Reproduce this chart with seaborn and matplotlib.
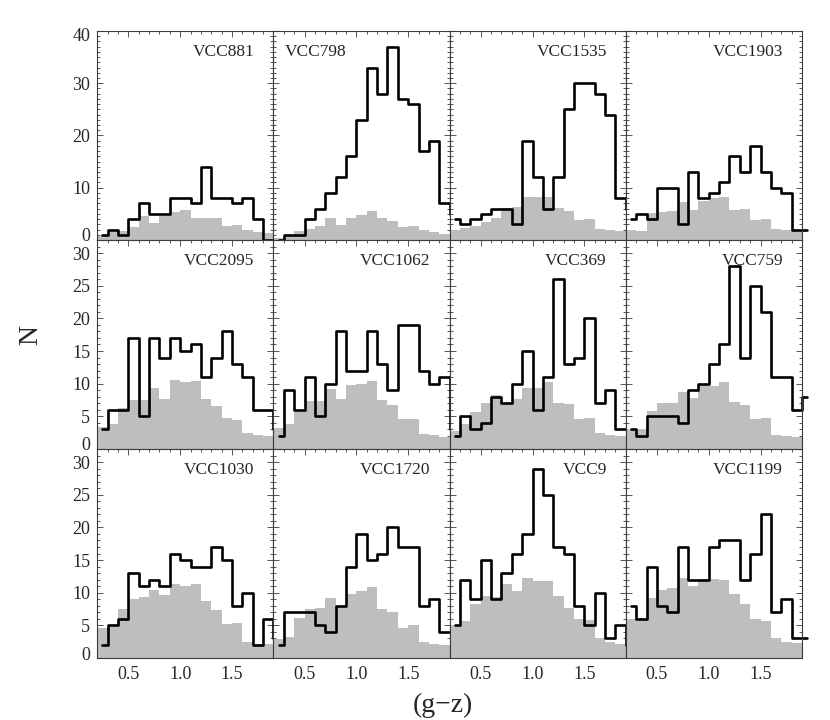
import numpy as np
import pandas as pd
import matplotlib
matplotlib.use("Agg")
import matplotlib.pyplot as plt
import matplotlib.transforms as mtransforms
from matplotlib.ticker import FixedLocator, MultipleLocator, FixedFormatter
import seaborn as sns

# ---------------- data ----------------
galaxies = ["VCC881", "VCC798", "VCC1535", "VCC1903",
            "VCC2095", "VCC1062", "VCC369", "VCC759",
            "VCC1030", "VCC1720", "VCC9", "VCC1199"]

# bin edges (g-z): GC histogram starts at the first bin centre and runs half a bin past the frame
gc_edges = [0.25, 0.3, 0.4, 0.5, 0.6, 0.7, 0.8, 0.9, 1.0, 1.1, 1.2, 1.3,
            1.4, 1.5, 1.6, 1.7, 1.8, 1.9, 1.95]
bg_edges = [0.2, 0.3, 0.4, 0.5, 0.6, 0.7, 0.8, 0.9, 1.0, 1.1, 1.2, 1.3,
            1.4, 1.5, 1.6, 1.7, 1.8, 1.9]

# globular-cluster counts (black step lines)
vcc881_gc = [1, 2, 1, 4, 7, 5, 5, 8, 8, 7, 14, 8, 8, 7, 8, 4, 0, 0]
vcc798_gc = [0, 1, 1, 4, 6, 9, 12, 16, 23, 33, 28, 37, 27, 26, 17, 19, 7, 5]
vcc1535_gc = [4, 3, 4, 5, 6, 6, 3, 19, 12, 6, 12, 25, 30, 30, 28, 24, 8, 6]
vcc1903_gc = [4, 5, 4, 10, 10, 3, 13, 8, 9, 11, 16, 13, 18, 13, 10, 9, 2, 2]
vcc2095_gc = [3, 6, 6, 17, 5, 17, 14, 17, 15, 16, 11, 14, 18, 13, 11, 6, 6, 3]
vcc1062_gc = [2, 9, 6, 11, 5, 10, 18, 12, 12, 18, 13, 9, 19, 19, 12, 10, 11, 3]
vcc369_gc = [2, 5, 3, 4, 8, 7, 10, 15, 6, 11, 26, 13, 14, 20, 7, 9, 3, 3]
vcc759_gc = [3, 2, 5, 5, 5, 4, 9, 10, 13, 16, 28, 14, 25, 21, 11, 11, 6, 8]
vcc1030_gc = [2, 5, 6, 13, 11, 12, 11, 16, 15, 14, 14, 17, 15, 8, 10, 2, 6, 3]
vcc1720_gc = [2, 7, 7, 7, 5, 4, 8, 14, 19, 15, 16, 20, 17, 17, 8, 9, 4, 4]
vcc9_gc = [5, 12, 9, 15, 9, 13, 16, 19, 29, 25, 17, 16, 8, 5, 10, 3, 5, 2]
vcc1199_gc = [8, 6, 14, 8, 7, 17, 12, 12, 17, 18, 18, 12, 16, 22, 7, 9, 3, 3]

# background / contamination histograms (grey fill)
vcc881_bg = [0.8, 1.5, 1.8, 2.4, 4.6, 3.2, 4.5, 5.3, 5.7, 4.3, 4.3, 4.2, 2.6, 2.9, 1.9, 1.6, 1.3]
vcc798_bg = [0.4, 0.8, 1.8, 2.1, 2.6, 4.2, 2.9, 4.3, 4.8, 5.6, 4.2, 3.7, 2.5, 2.7, 1.9, 1.5, 1.1]
vcc1535_bg = [1.9, 2.2, 2.7, 3.4, 4.3, 6.1, 6.4, 8.3, 8.2, 8.3, 6.2, 5.5, 3.8, 4.0, 2.1, 1.9, 1.7]
vcc1903_bg = [1.9, 1.8, 5.2, 5.3, 5.5, 7.2, 5.7, 7.5, 8.0, 8.2, 5.7, 6.0, 3.9, 4.0, 2.1, 1.9, 1.8]
vcc2095_bg = [3.4, 3.9, 6.2, 7.5, 7.5, 9.3, 7.7, 10.5, 10.3, 10.4, 7.6, 6.6, 4.8, 4.5, 2.4, 2.2, 2.0]
vcc1062_bg = [3.2, 3.8, 5.6, 7.3, 7.4, 9.2, 7.6, 9.8, 9.9, 10.4, 7.5, 6.8, 4.6, 4.6, 2.3, 2.2, 1.8]
vcc369_bg = [2.8, 3.8, 5.7, 7.0, 8.2, 6.9, 7.7, 9.3, 9.3, 10.2, 7.1, 6.9, 4.6, 4.8, 2.4, 2.2, 2.0]
vcc759_bg = [3.0, 3.0, 5.8, 7.1, 7.0, 8.8, 7.8, 9.6, 9.7, 10.2, 7.2, 6.8, 4.6, 4.8, 2.2, 2.0, 1.8]
vcc1030_bg = [4.6, 4.8, 7.5, 9.1, 9.3, 10.4, 9.7, 11.3, 11.1, 11.4, 8.8, 7.3, 5.2, 5.4, 2.5, 2.2, 2.1]
vcc1720_bg = [2.9, 3.2, 6.1, 7.5, 7.6, 9.2, 8.0, 9.8, 10.3, 10.8, 7.5, 7.0, 4.6, 5.1, 2.4, 2.2, 2.0]
vcc9_bg = [5.1, 5.6, 8.3, 9.5, 9.4, 11.3, 10.3, 12.2, 11.8, 11.8, 9.5, 7.7, 5.9, 5.8, 3.0, 2.5, 2.1]
vcc1199_bg = [6.0, 6.1, 9.2, 10.4, 10.7, 12.2, 11.0, 12.1, 12.1, 12.0, 9.8, 8.3, 5.9, 5.7, 3.0, 2.5, 2.3]

gc_counts = [vcc881_gc, vcc798_gc, vcc1535_gc, vcc1903_gc,
             vcc2095_gc, vcc1062_gc, vcc369_gc, vcc759_gc,
             vcc1030_gc, vcc1720_gc, vcc9_gc, vcc1199_gc]
bg_counts = [vcc881_bg, vcc798_bg, vcc1535_bg, vcc1903_bg,
             vcc2095_bg, vcc1062_bg, vcc369_bg, vcc759_bg,
             vcc1030_bg, vcc1720_bg, vcc9_bg, vcc1199_bg]

x_tick_values = [0.5, 1.0, 1.5]
x_tick_labels = ["0.5", "1.0", "1.5"]
top_y_ticks = [0, 10, 20, 30, 40]
low_y_ticks = [0, 5, 10, 15, 20, 25, 30]

# ---------------- style ----------------
sns.set_style("ticks")
plt.rcParams["font.family"] = ["Liberation Serif", "DejaVu Serif"]
plt.rcParams["axes.linewidth"] = 0.8
plt.rcParams["axes.edgecolor"] = "#3a3a3a"

fig = plt.figure(figsize=(8.3, 7.2), dpi=100)
gs = fig.add_gridspec(3, 4, left=0.1172, right=0.9663, top=0.957,
                      bottom=0.0861, wspace=0, hspace=0)

grey = "#bebebe"

for i, name in enumerate(galaxies):
    r, c = divmod(i, 4)
    ax = fig.add_subplot(gs[r, c])

    gc_centres = [(a + b) / 2 for a, b in zip(gc_edges[:-1], gc_edges[1:])]
    bg_centres = [(a + b) / 2 for a, b in zip(bg_edges[:-1], bg_edges[1:])]
    df_bg = pd.DataFrame({"gz": bg_centres, "N": bg_counts[i]})
    df_gc = pd.DataFrame({"gz": gc_centres, "N": gc_counts[i]})

    sns.histplot(data=df_bg, x="gz", weights="N", bins=bg_edges,
                 element="step", fill=True, color=grey, alpha=1,
                 linewidth=0, ax=ax, zorder=1)
    sns.histplot(data=df_gc, x="gz", weights="N", bins=gc_edges,
                 element="step", fill=False, color="black",
                 linewidth=1.9, ax=ax, zorder=3, clip_on=False)

    ax.set_xlim(0.2, 1.9)
    if r == 0:
        ax.set_ylim(0, 40)
        yt = top_y_ticks
    else:
        ax.set_ylim(0, 32)
        yt = low_y_ticks
    ax.set_xlabel("")
    ax.set_ylabel("")

    ax.xaxis.set_major_locator(FixedLocator(x_tick_values))
    ax.xaxis.set_minor_locator(MultipleLocator(0.1))
    ax.yaxis.set_major_locator(FixedLocator(yt))
    ax.yaxis.set_minor_locator(MultipleLocator(1))
    ax.tick_params(which="both", direction="in", top=True, right=True,
                   color="#3a3a3a", width=0.6, labelsize=13)
    ax.tick_params(which="major", length=4)
    ax.tick_params(which="minor", length=2)
    ax.tick_params(axis="x", pad=6)
    ax.tick_params(axis="y", pad=5)

    if r == 2:
        ax.xaxis.set_major_formatter(FixedFormatter(x_tick_labels))
    else:
        ax.tick_params(axis="x", labelbottom=False)
    if c == 0:
        ax.yaxis.set_major_formatter(FixedFormatter([str(v) for v in yt]))
        ticks = ax.yaxis.get_major_ticks()
        up = mtransforms.ScaledTranslation(0, 0.05, fig.dpi_scale_trans)
        down = mtransforms.ScaledTranslation(0, -0.04, fig.dpi_scale_trans)
        ticks[0].label1.set_transform(ticks[0].label1.get_transform() + up)
        if r == 0:
            ticks[-1].label1.set_transform(ticks[-1].label1.get_transform() + down)
    else:
        ax.tick_params(axis="y", labelleft=False)

    for s in ax.spines.values():
        s.set_visible(True)
        s.set_zorder(4)

    if name == "VCC798":
        ax.text(0.0625, 0.90, name, transform=ax.transAxes, ha="left",
                va="center", fontsize=12.5, zorder=2)
    else:
        ax.text(0.892, 0.90, name, transform=ax.transAxes, ha="right",
                va="center", fontsize=12.5, zorder=2)

fig.text(0.037, 0.535, "N", fontsize=20, rotation=90, ha="center", va="center")
fig.text(0.534, 0.003, "(g\u2212z)", fontsize=20, ha="center", va="bottom")

fig.savefig("out.png", dpi=100)
